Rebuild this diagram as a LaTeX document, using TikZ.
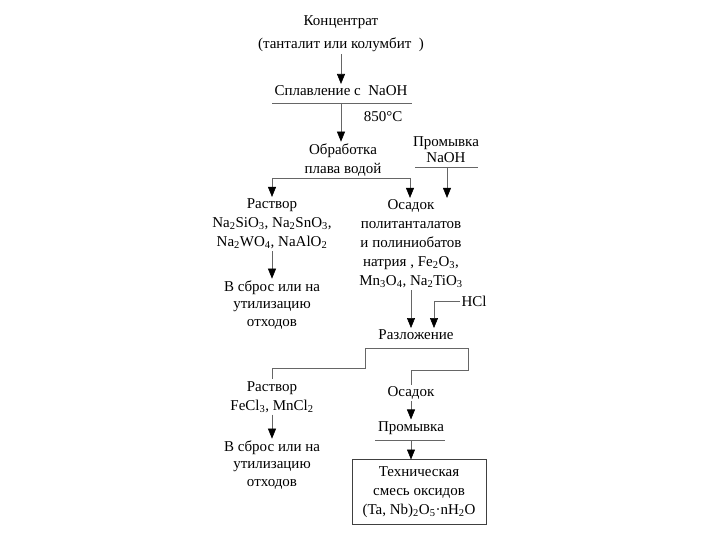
\documentclass[tikz,border=0pt]{standalone}
\usepackage{fontspec}
\setmainfont{Liberation Serif}
\usetikzlibrary{arrows.meta}
\begin{document}
\begin{tikzpicture}[
  x=1pt, y=-1pt,
  every node/.style={font=\fontsize{15}{19}\selectfont, align=center, inner sep=0pt, outer sep=2pt},
  flow/.style={draw=black!60, line width=0.6pt},
  arr/.style={flow, -{Triangle[length=10pt,width=8pt,color=black]}},
  tight/.style={font=\fontsize{15}{16}\selectfont},
  loose/.style={font=\fontsize{15}{23}\selectfont},
  waste/.style={font=\fontsize{15}{17.5}\selectfont},
  product/.style={draw=black!75, line width=0.6pt, minimum width=134pt, minimum height=65pt, outer sep=0pt},
]
\useasboundingbox (0,0) rectangle (720,540);
\node[loose] (conc) at (341,34) {Концентрат\\(танталит или колумбит~~)};
\node (melt) at (341,91) {Сплавление с~~NaOH};
\coordinate (melt-l) at (272,103);
\coordinate (melt-r) at (412,103);
\coordinate (melt-o) at (341,103);
\node (temp) at (383,117) {850°C};
\node (leach) at (343,160) {Обработка\\плава водой};
\coordinate (leach-l) at (272,178);
\coordinate (leach-r) at (410,178);
\node[tight] (wash) at (446,150) {Промывка\\NaOH};
\coordinate (wash-l) at (415,167);
\coordinate (wash-r) at (478,167);
\coordinate (wash-o) at (447,167);
\node (sol) at (272,224) {Раствор\\Na\textsubscript{2}SiO\textsubscript{3}, Na\textsubscript{2}SnO\textsubscript{3},\\Na\textsubscript{2}WO\textsubscript{4}, NaAlO\textsubscript{2}};
\node[waste] (waste) at (272,305) {В сброс или на\\утилизацию\\отходов};
\node (cake) at (411,244) {Осадок\\политанталатов\\и полиниобатов\\натрия , Fe\textsubscript{2}O\textsubscript{3},\\Mn\textsubscript{3}O\textsubscript{4}, Na\textsubscript{2}TiO\textsubscript{3}};
\node (hcl) at (474,301) {HCl};
\coordinate (hcl-c) at (434,301);
\node (dec) at (416,335) {Разложение};
\coordinate (dec-l) at (365,348);
\coordinate (dec-r) at (468,348);
\coordinate (dec-l2) at (365,368);
\coordinate (dec-r2) at (468,370);
\node (sol2) at (272,397) {Раствор\\FeCl\textsubscript{3}, MnCl\textsubscript{2}};
\node[waste] (waste2) at (272,465) {В сброс или на\\утилизацию\\отходов};
\node (cake2) at (411,393) {Осадок};
\node (wash2) at (411,428) {Промывка};
\coordinate (wash2-l) at (375,440);
\coordinate (wash2-r) at (445,440);
\node[product] (prod) at (419,492) {Техническая\\смесь оксидов\\(Ta, Nb)\textsubscript{2}O\textsubscript{5}·nH\textsubscript{2}O};
\draw[arr] (conc) -- (melt);
\draw[flow] (melt-l) -- (melt-r);
\draw[arr] (melt-o) -- (melt-o |- leach.north);
\draw[flow] (leach-l) -- (leach-r);
\draw[arr] (leach-l) -- (leach-l |- sol.north);
\draw[arr] (leach-r) -- (leach-r |- cake.north);
\draw[flow] (wash-l) -- (wash-r);
\draw[arr] (wash-o) -- (wash-o |- cake.north);
\draw[arr] (sol) -- (waste);
\draw[arr] (cake) -- (cake |- dec.north);
\draw[flow] (hcl) -- (hcl-c);
\draw[arr] (hcl-c) -- (hcl-c |- dec.north);
\draw[flow] (dec-l) -- (dec-r);
\draw[flow] (dec-l) -- (dec-l2) -| (sol2);
\draw[flow] (dec-r) -- (dec-r2) -| (cake2);
\draw[arr] (sol2) -- (waste2);
\draw[arr] (cake2) -- (wash2);
\draw[flow] (wash2-l) -- (wash2-r);
\draw[arr] (wash2-l -| wash2) -- (wash2 |- prod.north);
\end{tikzpicture}
\end{document}
